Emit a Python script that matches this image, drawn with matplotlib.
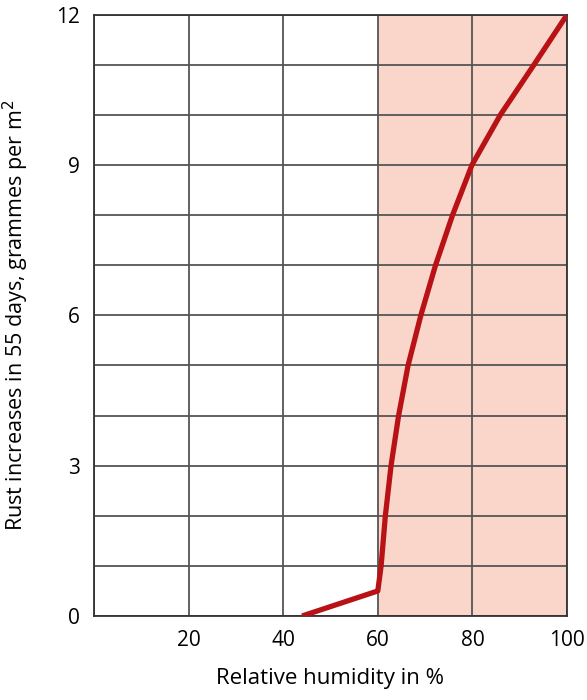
import matplotlib.pyplot as plt

# values
humidity = [44, 60, 60.7, 61.6, 62.8, 64.4, 66.4, 69.1, 72.2, 75.8, 79.9, 85.9, 93.0, 100]
rust = [0, 0.5, 1, 2, 3, 4, 5, 6, 7, 8, 9, 10, 11, 12]
x_ticks = [20, 40, 60, 80, 100]
y_ticks = [0, 3, 6, 9, 12]

plt.rcParams['font.family'] = ['Open Sans', 'DejaVu Sans']

fig = plt.figure(figsize=(5.87, 7.0), dpi=100)
ax = fig.add_axes([0.160, 0.12, 0.806, 0.859])

ax.axvspan(60, 100, color='#f9d6c9', zorder=0)
for y in range(0, 13):
    ax.axhline(y, color='#555555', lw=1.3, zorder=1)
for x in range(0, 101, 20):
    ax.axvline(x, color='#555555', lw=1.3, zorder=1)

ax.plot(humidity, rust, color='#b81217', lw=3.8, zorder=3,
        solid_capstyle='butt', solid_joinstyle='round')

ax.set_xlim(0, 100)
ax.set_ylim(0, 12)
ax.set_xticks(x_ticks)
ax.set_yticks(y_ticks)
ax.tick_params(length=0, labelsize=15, pad=10)
for s in ax.spines.values():
    s.set_color('#333333')
    s.set_linewidth(1.3)

ax.set_xlabel('Relative humidity in %', fontsize=16, labelpad=12)
ax.set_ylabel('Rust increases in 55 days, grammes per m$^2$', fontsize=15.5, labelpad=18)

fig.savefig('out.png', dpi=100)
